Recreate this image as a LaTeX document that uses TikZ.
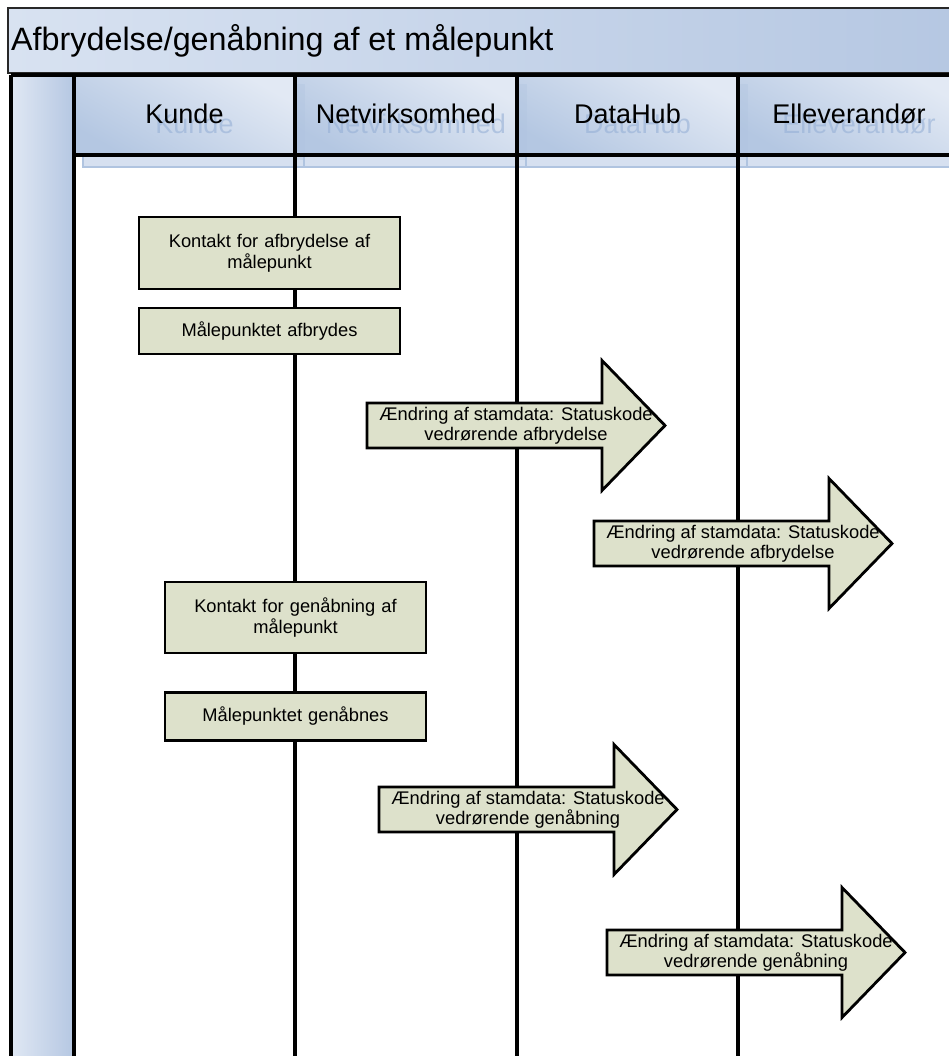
\documentclass[tikz,border=0pt]{standalone}
\usepackage{fontspec}
\setmainfont{Liberation Sans}
\definecolor{boxfill}{RGB}{221,225,203}
\definecolor{titlelight}{RGB}{216,226,241}
\definecolor{titledark}{RGB}{181,199,226}
\definecolor{hdrlight}{RGB}{226,233,244}
\definecolor{hdrdark}{RGB}{180,199,226}
\definecolor{ghost}{RGB}{150,176,214}
\definecolor{shadowfill}{RGB}{214,224,240}
\definecolor{shadowedge}{RGB}{176,196,224}
\definecolor{frameline}{RGB}{40,40,40}
\newcommand\msgarrow[4]{% x0, yc, name, text
  \draw[msgshape] (#1,#2-22.5) -- (#1+235,#2-22.5) -- (#1+235,#2-65) -- (#1+298,#2)
    -- (#1+235,#2+65) -- (#1+235,#2+22.5) -- (#1,#2+22.5) -- cycle;
  \node[msgtext] (#3) at (#1+149,#2) {#4};
}
\begin{document}
\begin{tikzpicture}[x=1pt,y=-1pt,
  procbox/.style={draw=black, line width=2.8pt, fill=boxfill, minimum width=261pt,
    align=center, font=\fontsize{18.3}{21}\selectfont, inner sep=0pt, text width=255pt},
  lanehdr/.style={font=\fontsize{27}{30}\selectfont, inner sep=0pt, anchor=base},
  ghosttext/.style={font=\fontsize{27}{30}\selectfont, inner sep=0pt, anchor=base, text=ghost, text opacity=0.6},
  laneline/.style={line width=4pt},
  msgtext/.style={font=\fontsize{18.3}{20}\selectfont, align=center, inner sep=0pt},
  msgshape/.style={draw=black, line width=2.8pt, fill=boxfill, line join=miter},
  hdrcell/.style={top color=hdrlight, bottom color=hdrdark, shading angle=-30},
  shadowcell/.style={fill=shadowfill, draw=shadowedge, line width=1.5pt},
]
\useasboundingbox (0,0) rectangle (949,1056);
\clip (0,0) rectangle (949,1056);
\fill[white] (0,0) rectangle (949,1056);

% title bar
\shade[left color=titlelight, right color=titledark, draw=frameline, line width=1.2pt] (8,8) rectangle (970,73);
\node[font=\fontsize{32.3}{36}\selectfont, inner sep=0pt, anchor=base west] (title) at (11,51) {Afbrydelse/genåbning af et målepunkt};

% left band
\shade[left color=titlelight!80!white, right color=titledark] (11,75) rectangle (74,1070);

% header shadows
\foreach \a/\b in {74/295,295/517,517/738,738/960}{
  \draw[shadowcell] (\a+9,85) rectangle (\b+9,167);
}
% header cells
\foreach \a/\b in {74/295,295/517,517/738,738/960}{
  \shade[hdrcell] (\a,75) rectangle (\b,155);
}
% shadow edges peeking into the next cell
\foreach \b in {295,517,738}{
  \fill[shadowedge, opacity=0.35] (\b+2,84) rectangle (\b+10,160);
}

% ghost header texts
\node[ghosttext] (gk) at (194.5,134) {Kunde};
\node[ghosttext] (gn) at (416,134) {Netvirksomhed};
\node[ghosttext] (gd) at (637.5,134) {DataHub};
\node[ghosttext] (ge) at (859,134) {Elleverandør};
% header texts
\node[lanehdr] (hk) at (184.5,124) {Kunde};
\node[lanehdr] (hn) at (406,124) {Netvirksomhed};
\node[lanehdr] (hd) at (627.5,124) {DataHub};
\node[lanehdr] (he) at (849,124) {Elleverandør};

% lane lines
\coordinate (b0t) at (11,75);  \coordinate (b0b) at (11,1070);
\coordinate (b1t) at (74,75);  \coordinate (b1b) at (74,1070);
\coordinate (l1t) at (295,75); \coordinate (l1b) at (295,1070);
\coordinate (l2t) at (517,75); \coordinate (l2b) at (517,1070);
\coordinate (l3t) at (738,75); \coordinate (l3b) at (738,1070);
\coordinate (hl) at (74,155);  \coordinate (hr) at (960,155);
\coordinate (tr) at (960,75);
\draw[laneline] (b0t) -- (tr);
\draw[laneline] (b0t) -- (b0b);
\draw[laneline] (b1t) -- (b1b);
\draw[laneline] (l1t) -- (l1b);
\draw[laneline] (l2t) -- (l2b);
\draw[laneline] (l3t) -- (l3b);
\draw[laneline] (hl) -- (hr);

% process boxes
\node[procbox, minimum height=72pt] (p1) at (269.5,253) {Kontakt for afbrydelse af\\målepunkt};
\node[procbox, minimum height=46pt] (p2) at (269.5,331) {Målepunktet afbrydes};
\node[procbox, minimum height=71pt] (p3) at (295.5,617.5) {Kontakt for genåbning af\\målepunkt};
\node[procbox, minimum height=48pt] (p4) at (295.5,716.5) {Målepunktet genåbnes};

% message arrows
\msgarrow{367}{425.5}{m1}{Ændring af stamdata: Statuskode\\vedrørende afbrydelse}
\msgarrow{594}{543.5}{m2}{Ændring af stamdata: Statuskode\\vedrørende afbrydelse}
\msgarrow{379}{809.5}{m3}{Ændring af stamdata: Statuskode\\vedrørende genåbning}
\msgarrow{607}{952.5}{m4}{Ændring af stamdata: Statuskode\\vedrørende genåbning}
\end{tikzpicture}
\end{document}
